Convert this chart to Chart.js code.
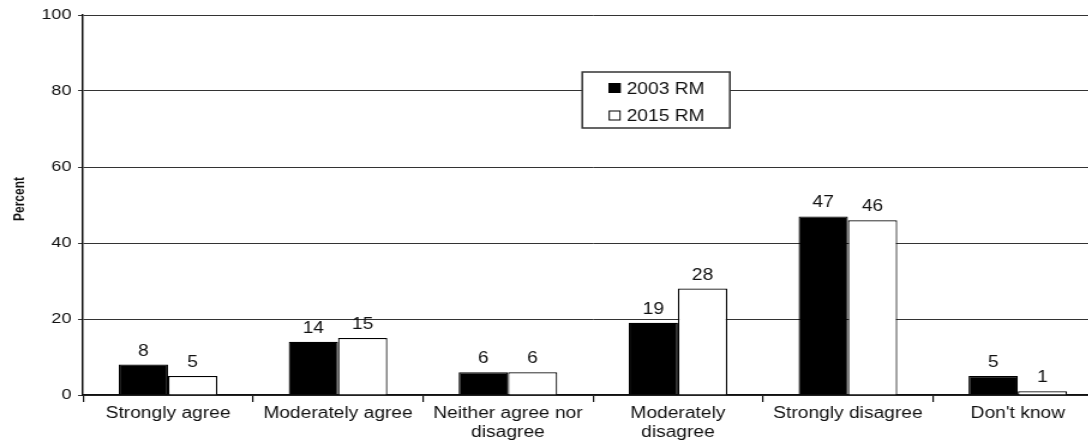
<!DOCTYPE html>
<html><head><meta charset="utf-8">
<script src="https://cdn.jsdelivr.net/npm/chart.js@4/dist/chart.umd.min.js"></script>
<style>
html,body{margin:0;padding:0;background:#fff;overflow:hidden;width:1088px;height:443px;}
#wrap{width:925px;height:443px;transform:scaleX(1.2);transform-origin:0 0;}
canvas{display:block;}
</style></head><body>
<div id="wrap"><canvas id="c" width="925" height="443"></canvas></div>
<script>
const categories = ["Strongly agree", "Moderately agree", ["Neither agree nor", "disagree"], ["Moderately", "disagree"], "Strongly disagree", "Don't know"];
const series2003 = [8, 14, 6, 19, 47, 5];
const series2015 = [5, 15, 6, 28, 46, 1];
const seriesNames = ["2003 RM", "2015 RM"];
const yTicks = [0, 20, 40, 60, 80, 100];
const yTitle = "Percent";

const FONT = '"Liberation Sans", Arial, Helvetica, sans-serif';
const TXT = '#111';

const valueLabels = {
  id: 'valueLabels',
  afterDatasetsDraw(chart) {
    const ctx = chart.ctx;
    ctx.save();
    ctx.font = '16px ' + FONT;
    ctx.fillStyle = TXT;
    ctx.textAlign = 'center';
    ctx.textBaseline = 'alphabetic';
    chart.data.datasets.forEach((ds, i) => {
      chart.getDatasetMeta(i).data.forEach((bar, j) => {
        ctx.fillText(String(ds.data[j]), bar.x, bar.y - 9);
      });
    });
    ctx.restore();
  }
};

const yTitlePlugin = {
  id: 'yTitlePlugin',
  afterDraw(chart) {
    const ctx = chart.ctx;
    ctx.save();
    ctx.translate(17, 199);
    ctx.rotate(-Math.PI / 2);
    ctx.font = 'bold 12px ' + FONT;
    ctx.fillStyle = TXT;
    ctx.textAlign = 'center';
    ctx.textBaseline = 'middle';
    ctx.fillText(yTitle, 0, 0);
    ctx.restore();
  }
};

const boxLegend = {
  id: 'boxLegend',
  afterDraw(chart) {
    const ctx = chart.ctx;
    const a = chart.chartArea;
    const x = a.left + 416, y = 72, w = 123, h = 56;
    ctx.save();
    ctx.fillStyle = '#fff';
    ctx.fillRect(x, y, w, h);
    ctx.strokeStyle = '#333';
    ctx.lineWidth = 1.5;
    ctx.strokeRect(x, y, w, h);
    ctx.font = '16px ' + FONT;
    ctx.textAlign = 'left';
    ctx.textBaseline = 'alphabetic';
    const rows = [{sq: 83, base: 93.5}, {sq: 110.5, base: 121}];
    chart.data.datasets.forEach((ds, i) => {
      const r = rows[i];
      ctx.fillStyle = ds.backgroundColor;
      ctx.fillRect(x + 22, r.sq, 10, 10);
      ctx.strokeStyle = '#000';
      ctx.lineWidth = 1;
      ctx.strokeRect(x + 22.5, r.sq + 0.5, 9, 9);
      ctx.fillStyle = TXT;
      ctx.fillText(ds.label, x + 37, r.base);
    });
    ctx.restore();
  }
};

new Chart(document.getElementById('c'), {
  type: 'bar',
  data: {
    labels: categories,
    datasets: [
      {label: seriesNames[0], data: series2003, backgroundColor: '#000', borderColor: '#000', borderWidth: 1.2},
      {label: seriesNames[1], data: series2015, backgroundColor: '#fff', borderColor: '#000', borderWidth: 1.2}
    ]
  },
  options: {
    responsive: false,
    animation: false,
    devicePixelRatio: 1,
    layout: {padding: {top: 15, right: 6, left: 0, bottom: 0}},
    plugins: {legend: {display: false}, tooltip: {enabled: false}},
    datasets: {bar: {categoryPercentage: 0.58, barPercentage: 1.0}},
    scales: {
      x: {
        afterFit(s) { s.height = 48; },
        grid: {drawOnChartArea: false, drawTicks: true, tickLength: 7, color: '#111', lineWidth: 1.2},
        border: {display: true, color: '#111', width: 1.5},
        ticks: {font: {family: FONT, size: 16}, color: TXT, padding: 2, maxRotation: 0, autoSkip: false}
      },
      y: {
        min: 0, max: 100,
        afterFit(s) { s.width = 69.2; },
        afterBuildTicks(s) { s.ticks = yTicks.map(v => ({value: v})); },
        grid: {color: '#333', lineWidth: 1, tickLength: 4.2, drawTicks: true},
        border: {display: true, color: '#111', width: 1.5},
        ticks: {font: {family: FONT, size: 15}, color: TXT, padding: 5.5},
        title: {display: false}
      }
    }
  },
  plugins: [valueLabels, boxLegend, yTitlePlugin]
});
</script>
</body></html>
